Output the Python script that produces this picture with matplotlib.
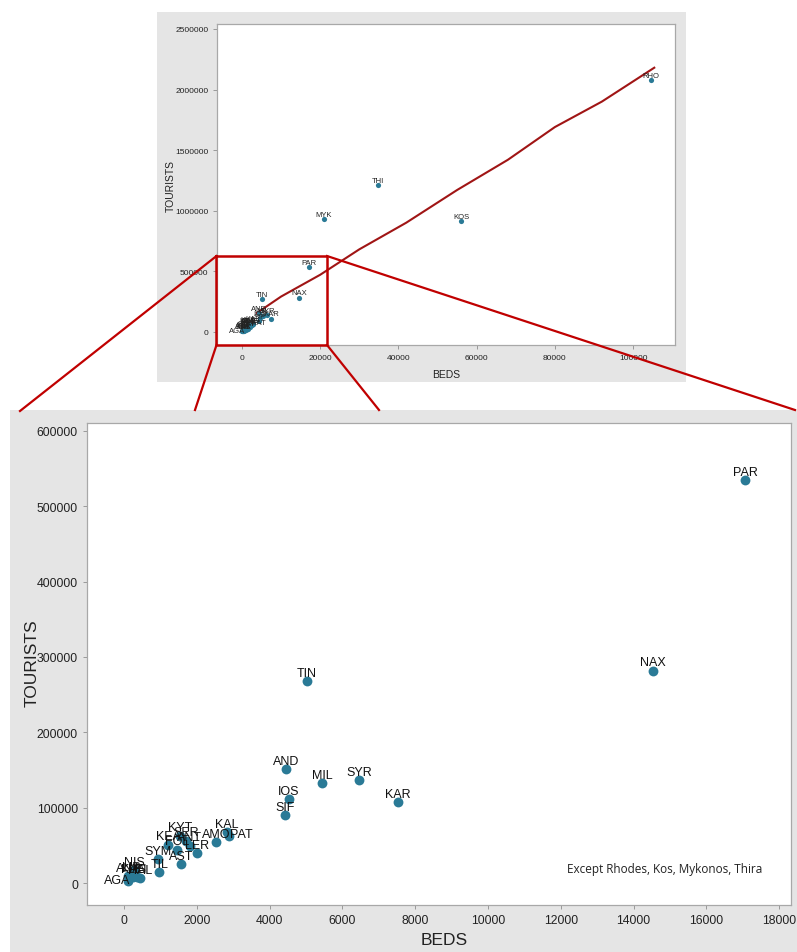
import matplotlib
matplotlib.use('Agg')
import matplotlib.pyplot as plt
from matplotlib.patches import Rectangle

plt.rcParams['font.family'] = ['Liberation Sans', 'DejaVu Sans']

# island codes, hotel beds and tourist arrivals
islands = ['RHO', 'KOS', 'THI', 'MYK', 'PAR', 'NAX', 'TIN', 'AND', 'SYR', 'MIL',
           'IOS', 'SIF', 'KAR', 'KAL', 'PAT', 'AMO', 'KYT', 'SER', 'KEA', 'ANT',
           'FOL', 'LER', 'AST', 'SYM', 'TIL', 'NIS', 'LIP', 'ANA', 'KAS', 'LEI',
           'HAL', 'AGA']
beds = [104600, 56000, 34700, 20900, 17060, 14530, 5030, 4450, 6460, 5440,
        4530, 4420, 7530, 2820, 2890, 2540, 1550, 1700, 1220, 1810,
        1470, 2000, 1560, 930, 970, 275, 210, 120, 250, 360,
        440, 110]
tourists = [2077000, 916000, 1213000, 932000, 535000, 282000, 268000, 151000, 136700, 132700,
            111500, 90300, 107500, 67200, 62800, 54000, 62800, 56200, 50900, 49600,
            44200, 39800, 25200, 31900, 14600, 17300, 10600, 9000, 8000, 7500,
            6600, 2700]

# smoothed trend over all islands
fit_beds = [3800, 10000, 20000, 30000, 42000, 55000, 68000, 80000, 92000, 105400]
fit_tourists = [154000, 290000, 470000, 680000, 900000, 1170000, 1420000, 1690000, 1900000, 2180000]

W, H = 797, 953
TEAL = '#2A7A96'
RED = '#C00000'
GREY_BG = '#E5E5E5'

# labels that are pushed off their default spot (points)
label_shift = {'PAT': (9, 1.5), 'AGA': (-8, 0.5)}


def fx(px):
    return px / W


def fy(py):
    return 1 - py / H


fig = plt.figure(figsize=(W / 100, H / 100), dpi=100)

# grey panels behind each chart
fig.patches.append(Rectangle((fx(157), fy(383)), fx(686) - fx(157), fy(13) - fy(383),
                             transform=fig.transFigure, facecolor=GREY_BG, edgecolor='none', zorder=-5))
fig.patches.append(Rectangle((fx(10), 0), fx(797) - fx(10), fy(411),
                             transform=fig.transFigure, facecolor=GREY_BG, edgecolor='none', zorder=-5))


def style_axes(ax, tick_size, label_size):
    for s in ax.spines.values():
        s.set_color('#A8A8A8')
        s.set_linewidth(0.9)
    ax.tick_params(direction='out', length=3, width=0.7, color='#999999',
                   labelsize=tick_size, labelcolor='#222222')
    ax.ticklabel_format(style='plain', useOffset=False)
    ax.set_xlabel('BEDS', fontsize=label_size, color='#222222')
    ax.set_ylabel('TOURISTS', fontsize=label_size, color='#222222')


# full data set
ax1 = fig.add_axes([fx(217.3), fy(346), fx(675) - fx(217.3), fy(25) - fy(346)], zorder=1)
ax1.plot(fit_beds, fit_tourists, color='#A01515', lw=1.5, zorder=2)
ax1.scatter(beds, tourists, s=14, color=TEAL, zorder=3, linewidths=0)
for name, b, t in zip(islands, beds, tourists):
    dx, dy = label_shift.get(name, (0, 4.5))
    ax1.annotate(name, (b, t), xytext=(dx * 0.5, dy * 0.75), textcoords='offset points',
                 ha='center', va='center', fontsize=5.5, color='#222222', zorder=4)
ax1.set_xlim(-6300, 110700)
ax1.set_ylim(-110000, 2541000)
ax1.set_xticks(range(0, 100001, 20000))
ax1.set_yticks(range(0, 2500001, 500000))
style_axes(ax1, 6, 7.5)
ax1.xaxis.set_label_coords(0.5, -0.075)
ax1.yaxis.set_label_coords(-0.09, 0.5)

# zoom on the smaller islands
ax2 = fig.add_axes([fx(87), fy(906), fx(791) - fx(87), fy(424) - fy(906)], zorder=1)
ax2.scatter(beds, tourists, s=50, color=TEAL, zorder=3, linewidths=0)
for name, b, t in zip(islands, beds, tourists):
    dx, dy = label_shift.get(name, (0, 6))
    ax2.annotate(name, (b, t), xytext=(dx, dy), textcoords='offset points',
                 ha='center', va='center', fontsize=9, color='#111111', zorder=4)
ax2.set_xlim(-1016, 18324)
ax2.set_ylim(-29200, 610600)
ax2.set_xticks(range(0, 18001, 2000))
ax2.set_yticks(range(0, 600001, 100000))
style_axes(ax2, 8.8, 12.5)
ax2.xaxis.set_label_coords(0.508, -0.057)
ax2.yaxis.set_label_coords(-0.068, 0.504)
ax2.text(0.96, 0.075, 'Except Rhodes, Kos, Mykonos, Thira', transform=ax2.transAxes,
         ha='right', va='center', fontsize=8.5, color='#222222',
         family=['Open Sans', 'DejaVu Sans'])

# red frame on the zoomed region and its connector lines, drawn over both charts
overlay = fig.add_axes([0, 0, 1, 1], zorder=5)
overlay.set_axis_off()
overlay.set_xlim(0, W)
overlay.set_ylim(H, 0)
box = [(216.5, 257), (327, 257), (327, 346), (216.5, 346), (216.5, 257)]
overlay.plot([p[0] for p in box], [p[1] for p in box], color=RED, lw=1.8)
for (x0, y0), (x1, y1) in [((216.5, 257), (20, 412)), ((216.5, 346), (195, 411)),
                           ((327, 346), (379, 411)), ((327, 257), (795, 411))]:
    overlay.plot([x0, x1], [y0, y1], color=RED, lw=1.6)

fig.savefig('out.png', dpi=100, facecolor='white')
